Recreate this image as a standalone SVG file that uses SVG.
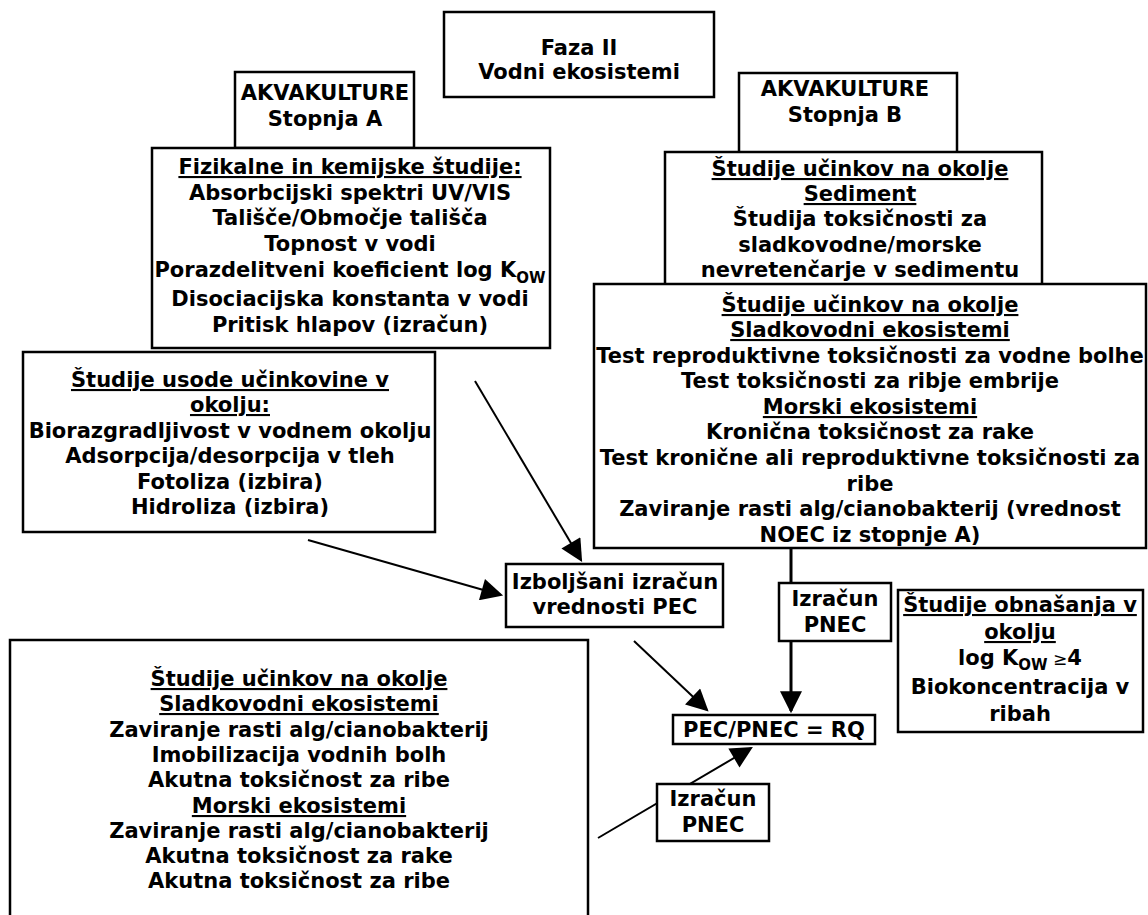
<svg xmlns="http://www.w3.org/2000/svg" width="1148" height="915" viewBox="0 0 1148 915">
<style>
.b{fill:#fff;stroke:#000;stroke-width:2.5}
.t{font-family:'DejaVu Sans',Verdana,sans-serif;font-weight:bold;font-size:21px;text-anchor:middle;fill:#000}
.u{text-decoration:underline}
.c{stroke:#000;stroke-width:2;fill:none}
.v{stroke:#000;stroke-width:3;fill:none}
</style>
<defs>
<marker id="ah" viewBox="0 0 10 10" refX="9" refY="5" markerUnits="userSpaceOnUse" markerWidth="24" markerHeight="22" orient="auto"><path d="M0,0 L10,5 L0,10 z" fill="#000"/></marker>
</defs>
<rect width="1148" height="915" fill="#fff"/>
<g id="connectors">
<line class="c" x1="475" y1="381" x2="581" y2="560" marker-end="url(#ah)"/>
<line class="c" x1="308" y1="540" x2="501" y2="595" marker-end="url(#ah)"/>
<line class="c" x1="634" y1="641" x2="707" y2="710" marker-end="url(#ah)"/>
<line class="v" x1="791" y1="548" x2="791" y2="583"/>
<line class="v" x1="791" y1="641" x2="791" y2="711" marker-end="url(#ah)"/>
<line class="c" x1="598" y1="838" x2="751" y2="748" marker-end="url(#ah)"/>
</g>
<g id="faza">
<rect class="b" x="444" y="12" width="270" height="85"/>
<text class="t" x="579" y="55">Faza II</text>
<text class="t" x="579" y="79">Vodni ekosistemi</text>
</g>
<g id="akv-a">
<rect class="b" x="235" y="72" width="179" height="76"/>
<text class="t" x="325" y="100">AKVAKULTURE</text>
<text class="t" x="325" y="126">Stopnja A</text>
</g>
<g id="akv-b">
<rect class="b" x="739" y="73" width="218" height="80"/>
<text class="t" x="845" y="96">AKVAKULTURE</text>
<text class="t" x="845" y="122">Stopnja B</text>
</g>
<g id="fizikalne">
<rect class="b" x="152" y="148" width="398" height="200"/>
<text class="t u" x="350" y="174">Fizikalne in kemijske študije:</text>
<text class="t" x="350" y="200">Absorbcijski spektri UV/VIS</text>
<text class="t" x="350" y="225">Tališče/Območje tališča</text>
<text class="t" x="350" y="251">Topnost v vodi</text>
<text class="t" x="350" y="277">Porazdelitveni koeficient log K<tspan dy="6" font-size="15">OW</tspan></text>
<text class="t" x="350" y="306">Disociacijska konstanta v vodi</text>
<text class="t" x="350" y="332">Pritisk hlapov (izračun)</text>
</g>
<g id="sediment">
<rect class="b" x="665" y="152" width="377" height="140"/>
<text class="t u" x="860" y="176">Študije učinkov na okolje</text>
<text class="t u" x="860" y="201">Sediment</text>
<text class="t" x="860" y="226">Študija toksičnosti za</text>
<text class="t" x="860" y="252">sladkovodne/morske</text>
<text class="t" x="860" y="277">nevretenčarje v sedimentu</text>
</g>
<g id="stopnja-b-ucinki">
<rect class="b" x="594" y="284" width="552" height="264"/>
<text class="t u" x="870" y="312">Študije učinkov na okolje</text>
<text class="t u" x="870" y="337">Sladkovodni ekosistemi</text>
<text class="t" x="870" y="363">Test reproduktivne toksičnosti za vodne bolhe</text>
<text class="t" x="870" y="388">Test toksičnosti za ribje embrije</text>
<text class="t u" x="870" y="414">Morski ekosistemi</text>
<text class="t" x="870" y="439">Kronična toksičnost za rake</text>
<text class="t" x="870" y="465">Test kronične ali reproduktivne toksičnosti za</text>
<text class="t" x="870" y="491">ribe</text>
<text class="t" x="870" y="516">Zaviranje rasti alg/cianobakterij (vrednost</text>
<text class="t" x="870" y="542">NOEC iz stopnje A)</text>
</g>
<g id="usoda">
<rect class="b" x="23" y="352" width="412" height="180"/>
<text class="t u" x="230" y="387">Študije usode učinkovine v</text>
<text class="t u" x="230" y="412">okolju:</text>
<text class="t" x="230" y="438">Biorazgradljivost v vodnem okolju</text>
<text class="t" x="230" y="463">Adsorpcija/desorpcija v tleh</text>
<text class="t" x="230" y="489">Fotoliza (izbira)</text>
<text class="t" x="230" y="514">Hidroliza (izbira)</text>
</g>
<g id="pec">
<rect class="b" x="506" y="564" width="217" height="63"/>
<text class="t" x="615" y="589">Izboljšani izračun</text>
<text class="t" x="615" y="614">vrednosti PEC</text>
</g>
<g id="pnec-b">
<rect class="b" x="779" y="583" width="112" height="58"/>
<text class="t" x="835" y="606">Izračun</text>
<text class="t" x="835" y="632">PNEC</text>
</g>
<g id="obnasanje">
<rect class="b" x="898" y="590" width="245" height="142"/>
<text class="t u" x="1020" y="612">Študije obnašanja v</text>
<text class="t u" x="1020" y="639">okolju</text>
<text class="t" x="1020" y="665">log K<tspan dy="5" font-size="15">OW</tspan><tspan dy="-5" font-weight="normal" font-size="17"> ≥</tspan>4</text>
<text class="t" x="1020" y="694">Biokoncentracija v</text>
<text class="t" x="1020" y="721">ribah</text>
</g>
<g id="stopnja-a-ucinki">
<rect class="b" x="10" y="640" width="578" height="300"/>
<text class="t u" x="299" y="686">Študije učinkov na okolje</text>
<text class="t u" x="299" y="711">Sladkovodni ekosistemi</text>
<text class="t" x="299" y="737">Zaviranje rasti alg/cianobakterij</text>
<text class="t" x="299" y="762">Imobilizacija vodnih bolh</text>
<text class="t" x="299" y="787">Akutna toksičnost za ribe</text>
<text class="t u" x="299" y="813">Morski ekosistemi</text>
<text class="t" x="299" y="838">Zaviranje rasti alg/cianobakterij</text>
<text class="t" x="299" y="863">Akutna toksičnost za rake</text>
<text class="t" x="299" y="888">Akutna toksičnost za ribe</text>
</g>
<g id="rq">
<rect class="b" x="673" y="715" width="202" height="29"/>
<text class="t" x="774" y="737">PEC/PNEC = RQ</text>
</g>
<g id="pnec-a">
<rect class="b" x="657" y="784" width="112" height="57"/>
<text class="t" x="713" y="806">Izračun</text>
<text class="t" x="713" y="832">PNEC</text>
</g>
</svg>
